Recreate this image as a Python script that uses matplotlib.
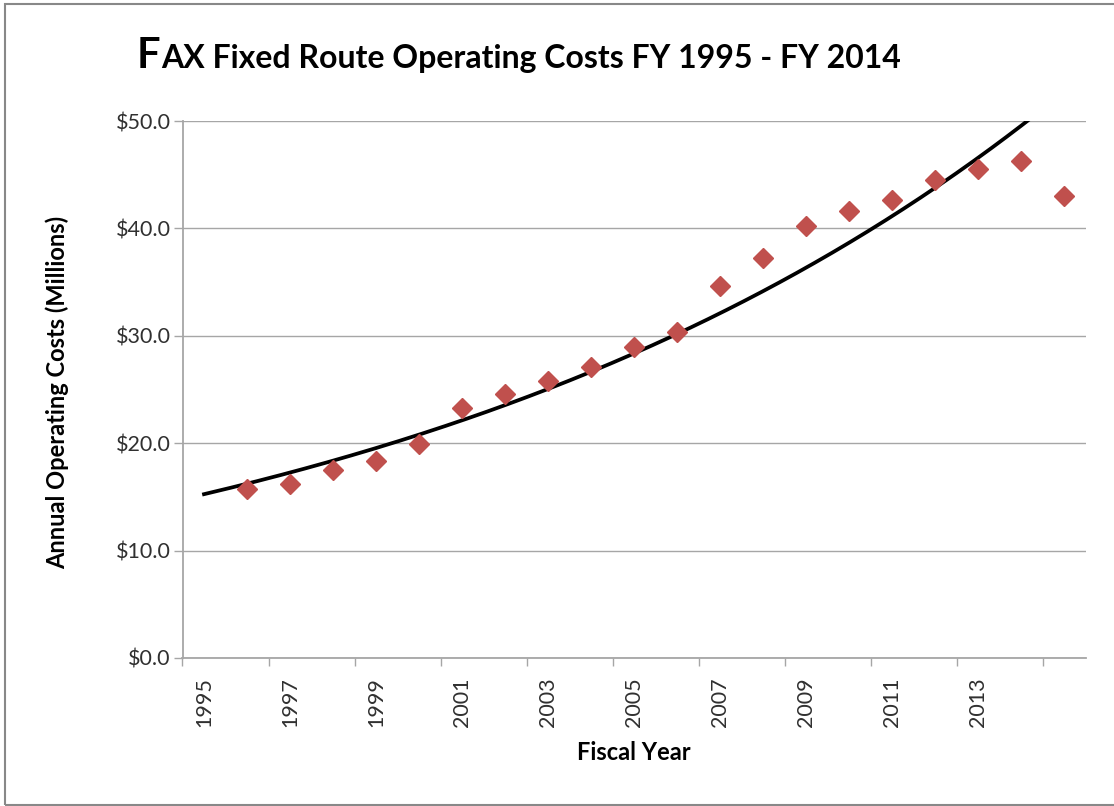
import numpy as np
import matplotlib
matplotlib.use('Agg')
import matplotlib.pyplot as plt

# Annual operating costs in $ millions, FY 1995 - FY 2014
fiscal_years = np.arange(1995, 2015)
costs = [15.7, 16.2, 17.5, 18.3, 19.9, 23.3, 24.6, 25.8, 27.1, 29.0,
         30.4, 34.6, 37.2, 40.2, 41.6, 42.6, 44.5, 45.5, 46.3, 43.0]
tick_years = [1995, 1997, 1999, 2001, 2003, 2005, 2007, 2009, 2011, 2013]
y_ticks = [0, 10, 20, 30, 40, 50]

# the original Excel chart draws the points one category to the right of their label
plot_x = fiscal_years + 1

plt.rcParams['font.family'] = ['Lato', 'DejaVu Sans']

W, H = 1114, 806
fig = plt.figure(figsize=(W / 100, H / 100), dpi=100)
ax = fig.add_axes([182.5 / W, 1 - 658 / H, (1086 - 182.5) / W, (658 - 121) / H])

# exponential trendline fitted to the data
b, a = np.polyfit(plot_x, np.log(costs), 1)
trend_x = np.linspace(1995, 2015.5, 300)
ax.plot(trend_x, np.exp(a + b * trend_x), color='black', lw=2.7, zorder=3)

ax.plot(plot_x, costs, linestyle='none', marker='D', markersize=10,
        color='#C0504D', zorder=4)

ax.set_xlim(1994.5, 2015.5)
ax.set_ylim(0, 50)

grid_color = '#A6A6A6'
ax.set_yticks(y_ticks)
ax.set_yticklabels([f'${v:.1f}' for v in y_ticks], fontsize=15.5, color='#303030')
ax.yaxis.grid(True, color=grid_color, lw=1)
ax.tick_params(axis='y', length=6.5, width=1, color=grid_color, pad=2)

ax.set_xticks(tick_years)
ax.set_xticklabels([str(y) for y in tick_years], rotation=90, fontsize=15.5, color='#303030')
ax.tick_params(axis='x', which='major', length=0, pad=14)
ax.set_xticks(np.arange(1994.5, 2015, 2), minor=True)
ax.tick_params(axis='x', which='minor', length=5.5, width=1, color=grid_color)

for side in ['top', 'right']:
    ax.spines[side].set_visible(False)
for side in ['left', 'bottom']:
    ax.spines[side].set_color(grid_color)
    ax.spines[side].set_linewidth(1.3)
ax.set_axisbelow(True)

fig.text(57 / W, 1 - 392 / H, 'Annual Operating Costs (Millions)', rotation=90,
         ha='center', va='center', fontsize=17, fontweight='bold')
fig.text(634 / W, 1 - 752 / H, 'Fiscal Year', ha='center', va='center',
         fontsize=17, fontweight='bold')

# title with a large leading "F"
t1 = fig.text(137 / W, 1 - 68 / H, 'F', fontsize=30, fontweight='bold', va='baseline')
fig.canvas.draw()
bb = t1.get_window_extent()
fig.text((bb.x1 + 1) / W, 1 - 68 / H, 'AX Fixed Route Operating Costs FY 1995 - FY 2014',
         fontsize=23, fontweight='bold', va='baseline')

# outer chart border
fig.patches.append(plt.Rectangle((5 / W, 1 - 805 / H), 1.2, (805 - 4) / H,
                                 transform=fig.transFigure, fill=False,
                                 edgecolor='#888888', lw=1.5))

fig.savefig('out.png', dpi=100)
